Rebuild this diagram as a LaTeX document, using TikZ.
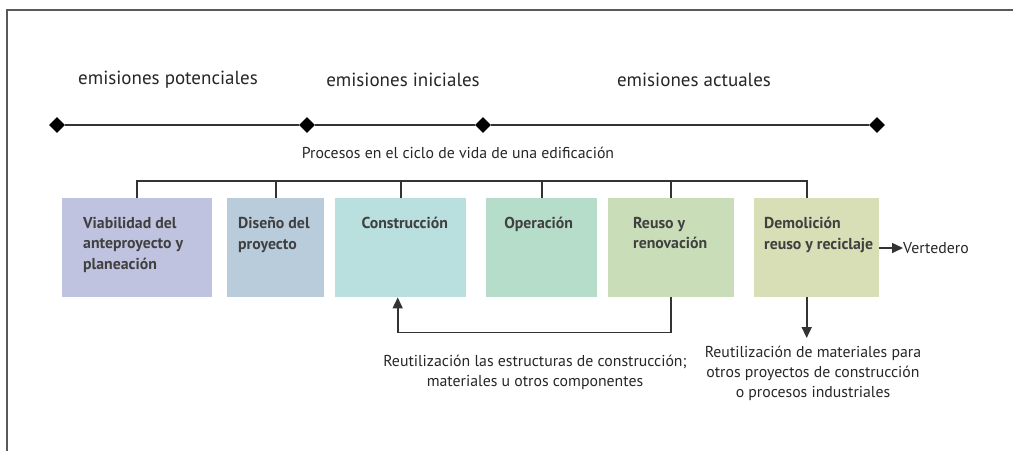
\documentclass[tikz,border=0pt]{standalone}
\usepackage{fontspec}
\setmainfont{PT Sans}
\usetikzlibrary{positioning, shapes.geometric, arrows.meta}
\usepackage{xcolor}

\definecolor{viabcol}{HTML}{BFC3E0}
\definecolor{disecol}{HTML}{B8CCDB}
\definecolor{conscol}{HTML}{B9E0DF}
\definecolor{opercol}{HTML}{B6DDC9}
\definecolor{reuscol}{HTML}{C9DEB8}
\definecolor{democol}{HTML}{D8DEB5}

\begin{document}
\begin{tikzpicture}[
    x=1pt, y=-1pt,
    line/.style={draw=black!80, line width=1.6pt},
    arrow/.style={line, -{Triangle[length=11pt, width=10pt]}},
    box/.style={anchor=north west, minimum height=99pt, inner sep=0pt},
    boxtext/.style={font=\fontsize{15.8}{20.5}\selectfont\bfseries, text=black!75, align=left, inner sep=0pt},
    emis/.style={font=\fontsize{19}{23}\selectfont, text=black!85},
    note/.style={font=\fontsize{15.8}{19.8}\selectfont, text=black!85, align=center, inner sep=0pt},
    hito/.style={diamond, fill=black, inner sep=0pt, minimum size=16pt}
]

\useasboundingbox (0,0) rectangle (1013,451);
\draw[draw=black!65, line width=2pt] (7,451) -- (7,10) -- (1013,10);

% linea de tiempo
\node[emis] (pot) at (168,80) {emisiones potenciales};
\node[emis] (ini) at (403,80) {emisiones iniciales};
\node[emis] (act) at (694,80) {emisiones actuales};

\node[hito] (h1) at (57,125) {};
\node[hito] (h2) at (307,125) {};
\node[hito] (h3) at (483,125) {};
\node[hito] (h4) at (877,125) {};
\draw[line] (h1) -- (h2) -- (h3) -- (h4);

\node[note] (proc) at (458,153) {Procesos en el ciclo de vida de una edificación};

% procesos
\node[box, fill=viabcol, minimum width=150pt] (viab) at (62,198) {};
\node[box, fill=disecol, minimum width=97pt] (dise) at (227,198) {};
\node[box, fill=conscol, minimum width=131pt] (cons) at (335,198) {};
\node[box, fill=opercol, minimum width=111pt] (oper) at (486,198) {};
\node[box, fill=reuscol, minimum width=126pt] (reus) at (608,198) {};
\node[box, fill=democol, minimum width=125pt] (demo) at (754,198) {};

\node[boxtext, anchor=north west] (viabt) at ([shift={(21,19)}]viab.north west) {Viabilidad del\\anteproyecto y\\planeación};
\node[boxtext, anchor=north west] (diset) at ([shift={(11,19)}]dise.north west) {Diseño del\\proyecto};
\node[boxtext, anchor=north] (const) at ([shift={(4,19)}]cons.north) {Construcción};
\node[boxtext, anchor=north] (opert) at ([shift={(-3,19)}]oper.north) {Operación};
\node[boxtext, anchor=north west] (reust) at ([shift={(25,19)}]reus.north west) {Reuso y\\renovación};
\node[boxtext, anchor=north west] (demot) at ([shift={(10,19)}]demo.north west) {Demolición\\reuso y reciclaje};

\coordinate (barra) at (0,181);
\draw[line] (viab.north) |- ([xshift=-10pt]demo.north |- barra) -- ([xshift=-10pt]demo.north);
\foreach \n in {dise, cons, oper, reus}
    \draw[line] (\n.north) -- (\n.north |- barra);

% salidas
\node[note, anchor=west] (vert) at (903,248) {Vertedero};
\draw[arrow] (demo.east |- vert) -- (vert.west);

\draw[arrow] (reus.south) -- ++(0,35) -| ([xshift=-3pt]cons.south);
\node[note] (reutest) at (535,372) {Reutilización las estructuras de construcción;\\materiales u otros componentes};

\node[note, anchor=north] (reutmat) at (813,346) {Reutilización de materiales para\\otros proyectos de construcción\\o procesos industriales};
\draw[arrow, shorten >=8pt] ([xshift=-10pt]demo.south) -- ([xshift=-10pt]demo.south |- reutmat.north);

\end{tikzpicture}
\end{document}
